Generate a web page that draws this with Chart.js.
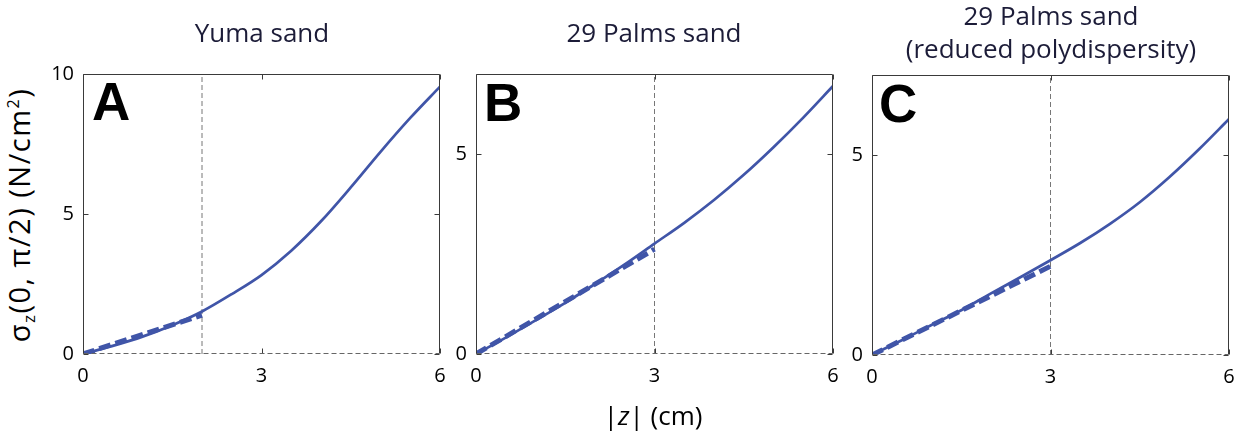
<!DOCTYPE html>
<html>
<head>
<meta charset="utf-8">
<script src="https://cdn.jsdelivr.net/npm/chart.js@4.4.1/dist/chart.umd.min.js"></script>
<style>
  body { margin: 0; background: #fff; width: 1236px; height: 438px; position: relative; overflow: hidden;
         font-family: "Open Sans", sans-serif; color: #1c1c38; }
  canvas { position: absolute; top: 0; }
  .title { position: absolute; font-size: 26px; line-height: 30px; text-align: center; white-space: nowrap; transform: translateX(-50%); }
  .letter { position: absolute; font-family: "Liberation Sans", Arial, sans-serif; font-weight: bold; font-size: 53px; line-height: 53px; color: #000; }
  #ylabel { position: absolute; left: 19px; top: 215px; font-size: 29px; line-height: 32px; letter-spacing: 1.5px; white-space: nowrap;
            transform: translate(-50%, -50%) rotate(-90deg); color: #000; }
  #ylabel sub { font-size: 17px; vertical-align: -5px; line-height: 0; }
  #ylabel sup { font-size: 16px; vertical-align: 11px; line-height: 0; }
  #xlabel { position: absolute; left: 653px; top: 400px; font-size: 26px; line-height: 30px; transform: translateX(-50%); color: #000; white-space: nowrap; }
</style>
</head>
<body>
<canvas id="chartA" width="410" height="438" style="left:40px"></canvas>
<canvas id="chartB" width="403" height="438" style="left:440px"></canvas>
<canvas id="chartC" width="393" height="438" style="left:843px"></canvas>

<div class="title" style="left:262px; top:17px">Yuma sand</div>
<div class="title" style="left:654px; top:17px">29 Palms sand</div>
<div class="title" style="left:1051px; top:0px">29 Palms sand</div>
<div class="title" style="left:1051px; top:33px">(reduced polydispersity)</div>

<div class="letter" style="left:92px; top:75px">A</div>
<div class="letter" style="left:484px; top:76px">B</div>
<div class="letter" style="left:879px; top:77px">C</div>

<div id="ylabel">σ<sub>z</sub>(0, π/2) (N/cm<sup>2</sup>)</div>
<div id="xlabel">|<i>z</i>| (cm)</div>

<script>
// depth |z| in cm, sampled along each curve
const zCm = [0, 0.5, 1, 1.5, 2, 2.5, 3, 3.5, 4, 4.5, 5, 5.5, 6];

// measured stress (N/cm^2)
const yumaStress = [0, 0.29, 0.62, 1.03, 1.52, 2.14, 2.82, 3.69, 4.74, 5.95, 7.22, 8.43, 9.55];
const palmsStress = [0, 0.41, 0.84, 1.28, 1.75, 2.24, 2.76, 3.28, 3.85, 4.48, 5.17, 5.91, 6.70];
const palmsReducedStress = [0, 0.37, 0.75, 1.12, 1.54, 1.95, 2.37, 2.80, 3.28, 3.82, 4.45, 5.15, 5.90];

// linear fits (start and end point) shown dashed
const yumaFitZ = [0, 2];
const yumaFitStress = [0, 1.39];
const palmsFitZ = [0, 3];
const palmsFitStress = [0, 2.62];
const palmsReducedFitZ = [0, 3];
const palmsReducedFitStress = [0, 2.22];

// vertical marker depth
const yumaMarker = 2;
const palmsMarker = 3;
const palmsReducedMarker = 3;

// axes
const xTicks = [0, 3, 6];
const yTicksA = [0, 5, 10];
const yTicksBC = [0, 5];
const yMaxA = 10;
const yMaxBC = 7;

const lineColor = '#4055a8';

const toPoints = (xs, ys) => xs.map((x, i) => ({ x: x, y: ys[i] }));

// frame, inward ticks and dashed zero line
const framePlugin = {
    id: 'frame',
    afterDatasetsDraw(chart) {
        const { ctx, chartArea: a, scales } = chart;
        const x = scales.x, y = scales.y;
        const L = Math.round(a.left) + 0.5, R = Math.round(a.right) - 0.5;
        const T = Math.round(a.top) + 0.5, B = Math.round(a.bottom) - 0.5;
        ctx.save();
        ctx.strokeStyle = '#3a3a3a';
        ctx.lineWidth = 1;
        ctx.beginPath();
        ctx.moveTo(L, B); ctx.lineTo(L, T); ctx.lineTo(R, T); ctx.lineTo(R, B);
        x.ticks.forEach(t => {
            const px = Math.round(x.getPixelForValue(t.value)) + 0.5;
            ctx.moveTo(px, T); ctx.lineTo(px, T + 5);
            ctx.moveTo(px, B); ctx.lineTo(px, B - 5);
        });
        y.ticks.forEach(t => {
            const py = Math.round(y.getPixelForValue(t.value)) + 0.5;
            ctx.moveTo(L, py); ctx.lineTo(L + 5, py);
            ctx.moveTo(R, py); ctx.lineTo(R - 5, py);
        });
        ctx.stroke();
        ctx.strokeStyle = '#666';
        ctx.setLineDash([5, 3]);
        ctx.beginPath();
        ctx.moveTo(L, B); ctx.lineTo(R, B);
        ctx.stroke();
        ctx.restore();
    }
};

function makeChart(id, opts) {
    new Chart(document.getElementById(id), {
        type: 'line',
        data: {
            datasets: [
                {
                    data: toPoints(opts.fitZ, opts.fitStress),
                    borderColor: lineColor,
                    borderWidth: 5,
                    borderDash: [12, 5],
                    pointRadius: 0,
                    order: 1
                },
                {
                    data: toPoints(zCm, opts.stress),
                    borderColor: lineColor,
                    borderWidth: 2.7,
                    pointRadius: 0,
                    cubicInterpolationMode: 'monotone',
                    order: 2
                },
                {
                    data: [{ x: opts.marker, y: 0 }, { x: opts.marker, y: opts.yMax }],
                    borderColor: '#777',
                    borderWidth: 1,
                    borderDash: [5, 3],
                    pointRadius: 0,
                    order: 3
                }
            ]
        },
        options: {
            responsive: false,
            animation: false,
            layout: { padding: { top: opts.top, right: opts.padRight, left: 0, bottom: 0 } },
            plugins: { legend: { display: false }, tooltip: { enabled: false } },
            scales: {
                x: {
                    type: 'linear',
                    min: 0, max: 6,
                    grid: { display: false, drawTicks: false },
                    border: { display: false },
                    afterBuildTicks: s => { s.ticks = xTicks.map(v => ({ value: v })); },
                    afterFit: s => {
                        s.height = 438 - opts.bottom;
                        s.paddingLeft = 0;
                        s.paddingRight = 0;
                    },
                    ticks: { padding: 10, color: '#000', font: { family: 'Open Sans', size: 20 } }
                },
                y: {
                    type: 'linear',
                    min: 0, max: opts.yMax,
                    grid: { display: false, drawTicks: false },
                    border: { display: false },
                    afterBuildTicks: s => { s.ticks = opts.yTicks.map(v => ({ value: v })); },
                    afterFit: s => {
                        s.width = opts.yWidth;
                        s.paddingTop = 0;
                        s.paddingBottom = 0;
                    },
                    ticks: { padding: 9, color: '#000', font: { family: 'Open Sans', size: 20 } }
                }
            }
        },
        plugins: [framePlugin]
    });
}

makeChart('chartA', { stress: yumaStress, fitZ: yumaFitZ, fitStress: yumaFitStress, marker: yumaMarker,
    yMax: yMaxA, yTicks: yTicksA, top: 74, bottom: 354, yWidth: 43, padRight: 10 });
makeChart('chartB', { stress: palmsStress, fitZ: palmsFitZ, fitStress: palmsFitStress, marker: palmsMarker,
    yMax: yMaxBC, yTicks: yTicksBC, top: 74, bottom: 354, yWidth: 36, padRight: 10 });
makeChart('chartC', { stress: palmsReducedStress, fitZ: palmsReducedFitZ, fitStress: palmsReducedFitStress, marker: palmsReducedMarker,
    yMax: yMaxBC, yTicks: yTicksBC, top: 75, bottom: 355, yWidth: 29, padRight: 7 });
</script>
</body>
</html>
